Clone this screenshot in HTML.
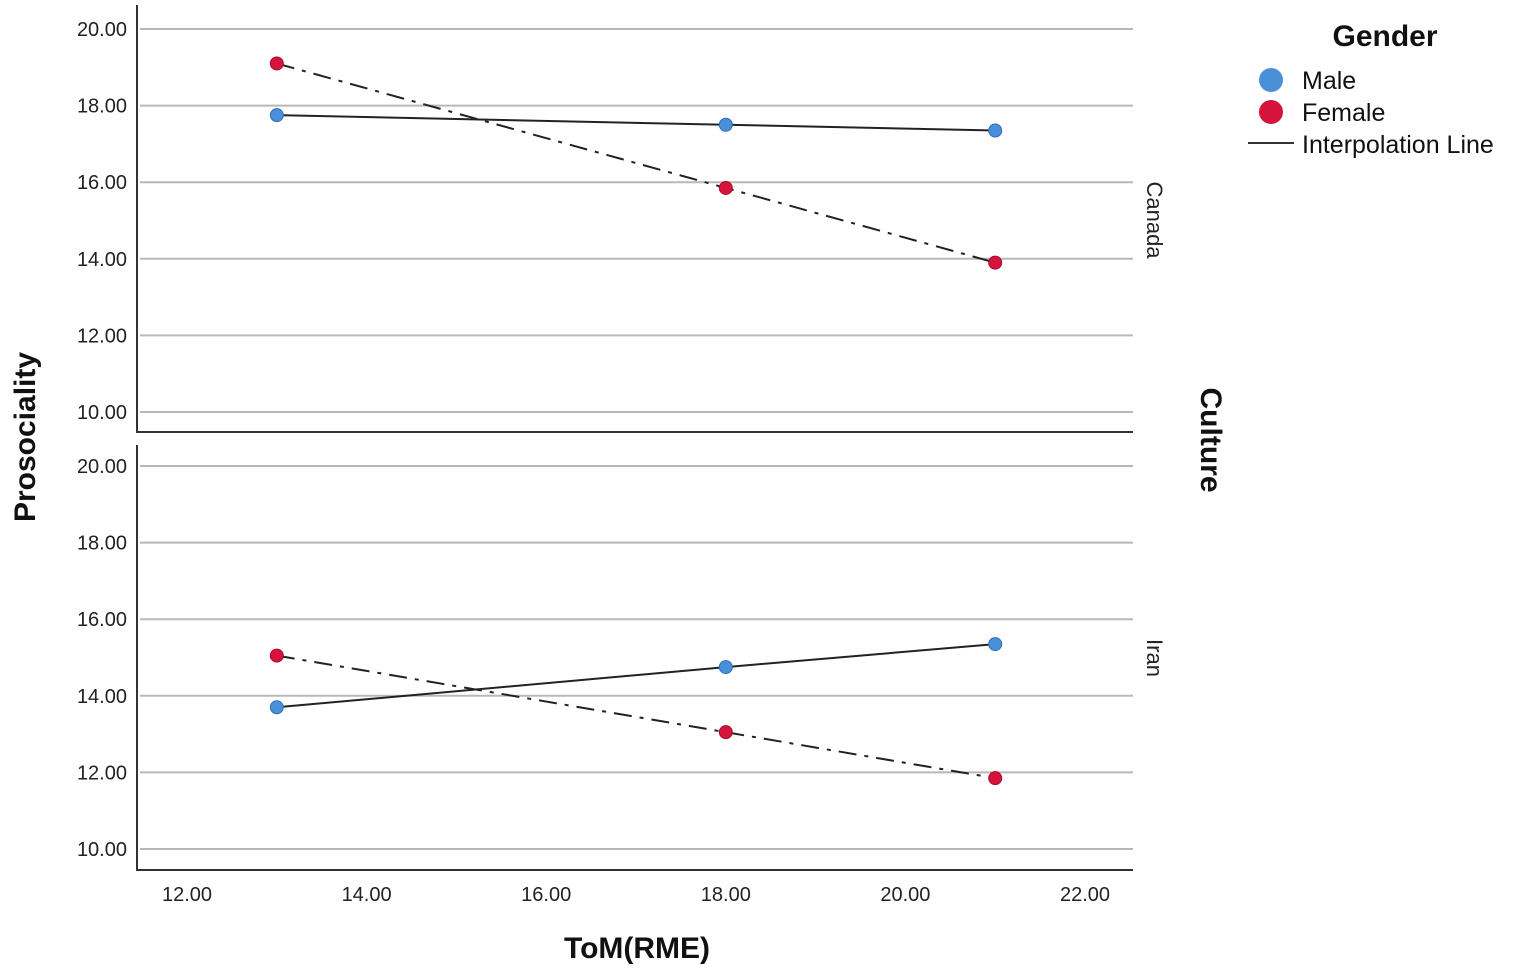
<!DOCTYPE html>
<html><head><meta charset="utf-8"><style>
body{margin:0;background:#fff;}
svg{display:block;font-family:"Liberation Sans",sans-serif;}
</style></head><body>
<svg id="chart" width="1535" height="970"></svg>
<script>
const panels = ["Canada","Iran"];
const xValues = [13,18,21];
const maleCanada = [17.75,17.5,17.35];
const femaleCanada = [19.1,15.85,13.9];
const maleIran = [13.7,14.75,15.35];
const femaleIran = [15.05,13.05,11.85];
const yTicks = [10,12,14,16,18,20];
const xTicks = [12,14,16,18,20,22];

const NS="http://www.w3.org/2000/svg";
const svg=document.getElementById('chart');
function mk(tag,attrs,parent){const e=document.createElementNS(NS,tag);for(const k in attrs)e.setAttribute(k,attrs[k]);(parent||svg).appendChild(e);return e;}
const L=137,R=1133;
function xs(v){return 187+(v-12)*89.8;}
const panelDefs=[{y20:29,top:5,bottom:432,m:maleCanada,f:femaleCanada,label:"Canada"},{y20:466,top:445,bottom:870,m:maleIran,f:femaleIran,label:"Iran"}];
panelDefs.forEach((p,pi)=>{
  const ys=v=>p.y20+(20-v)*38.3;
  const g=mk('g',{});
  
  
  yTicks.forEach(t=>{
    const ln=mk('line',{x1:L+3,x2:R,y1:ys(t),y2:ys(t),stroke:'#b8b8b8','stroke-width':2},g);
    
    
    const tx=mk('text',{x:127,y:ys(t)+7,'text-anchor':'end','font-size':20,fill:'#222'},g);
    tx.textContent=t.toFixed(2);
    
    
  });
  const ax=mk('path',{d:`M${L},${p.top} V${p.bottom} H${R}`,stroke:'#333','stroke-width':2,fill:'none'},g);
  
  
  const ml=mk('polyline',{points:xValues.map((x,i)=>xs(x)+','+ys(p.m[i])).join(' '),stroke:'#222','stroke-width':2,fill:'none'},g);
  
  
  const fl=mk('polyline',{points:xValues.map((x,i)=>xs(x)+','+ys(p.f[i])).join(' '),stroke:'#222','stroke-width':2,fill:'none','stroke-dasharray':'18 8 4 8'},g);
  
  
  xValues.forEach((x,i)=>{
    const c1=mk('circle',{cx:xs(x),cy:ys(p.m[i]),r:6.5,fill:'#4a90d9',stroke:'#2d6fb8','stroke-width':1},g);
    
    
    const c2=mk('circle',{cx:xs(x),cy:ys(p.f[i]),r:6.5,fill:'#d6133a',stroke:'#a80d2c','stroke-width':1},g);
    
    
  });
  const pl=mk('text',{x:0,y:0,'font-size':22,fill:'#222',transform:`translate(1147,${pi==0?220:658}) rotate(90)`,'text-anchor':'middle'},g);
  pl.textContent=p.label;
  
  
});
xTicks.forEach(t=>{
  const tx=mk('text',{x:xs(t),y:901,'text-anchor':'middle','font-size':20,fill:'#222'});
  tx.textContent=t.toFixed(2);
  
  
});
const xt=mk('text',{x:637,y:958,'text-anchor':'middle','font-size':30,'font-weight':'bold',fill:'#111'});
xt.textContent='ToM(RME)';


const yt=mk('text',{x:0,y:0,'text-anchor':'middle','font-size':30,'font-weight':'bold',fill:'#111',transform:'translate(35,437) rotate(-90)'});
yt.textContent='Prosociality';


const ct=mk('text',{x:0,y:0,'text-anchor':'middle','font-size':30,'font-weight':'bold',fill:'#111',transform:'translate(1201,440) rotate(90)'});
ct.textContent='Culture';


const lg=mk('g',{});


const lt=mk('text',{x:1385,y:46,'text-anchor':'middle','font-size':30,'font-weight':'bold',fill:'#111'},lg);
lt.textContent='Gender';


[['Male','#4a90d9',80],['Female','#d6133a',112]].forEach(([n,c,y])=>{
  const ci=mk('circle',{cx:1271,cy:y,r:12,fill:c},lg);
  
  
  const t=mk('text',{x:1302,y:y+9,'font-size':25,fill:'#111'},lg);
  t.textContent=n;
  
  
});
const ll=mk('line',{x1:1248,x2:1294,y1:143,y2:143,stroke:'#333','stroke-width':2},lg);


const lx=mk('text',{x:1302,y:153,'font-size':25,fill:'#111'},lg);
lx.textContent='Interpolation Line';


</script>
</body></html>
